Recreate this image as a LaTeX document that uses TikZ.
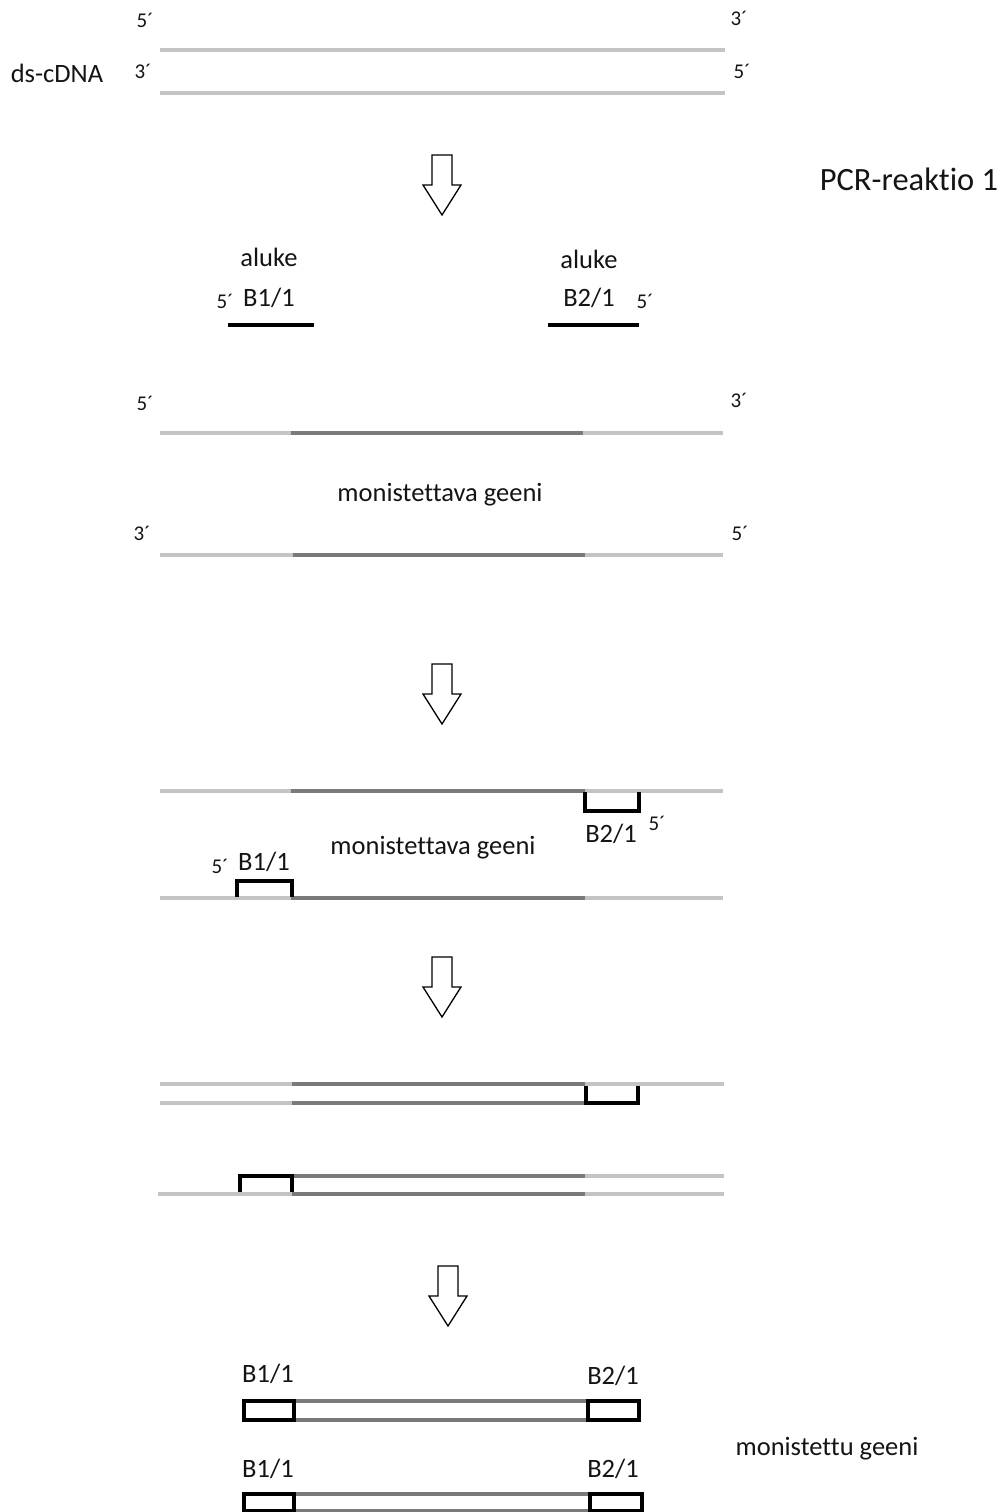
\documentclass[tikz,border=0pt]{standalone}
\usepackage{fontspec}
\setmainfont{Carlito}[Ligatures=NoCommon]
\begin{document}
\begin{tikzpicture}[x=1pt,y=-1pt,
  lite/.style={draw={rgb,255:red,196;green,196;blue,196},line width=4pt},
  dark/.style={draw={rgb,255:red,122;green,122;blue,122},line width=4pt},
  primer/.style={draw=black,line width=4pt},
  endlbl/.style={font=\fontsize{21}{24}\selectfont,text={rgb,255:red,20;green,20;blue,20}},
  lbl/.style={font=\fontsize{26.5}{30}\selectfont,text={rgb,255:red,20;green,20;blue,20}},
  biglbl/.style={font=\fontsize{32.5}{38}\selectfont,text={rgb,255:red,20;green,20;blue,20}},
  stepmark/.style={draw=black,line width=1.3pt,fill=white,line join=miter}]
\useasboundingbox (0,0) rectangle (1004,1512);

% hollow down arrow: #1 = centre x, #2 = top y
\newcommand\downarrowshape[2]{%
  \draw[stepmark] (#1-10,#2) -- (#1+10,#2) -- (#1+10,#2+30) -- (#1+19,#2+30)
    -- (#1,#2+60) -- (#1-19,#2+30) -- (#1-10,#2+30) -- cycle;}

% ---- ds-cDNA
\node[endlbl] (a5) at (145,20) {5´};
\node[endlbl] (a3r) at (739,18) {3´};
\node[endlbl] (a3) at (143,71) {3´};
\node[endlbl] (a5r) at (742,71) {5´};
\node[lbl] (dsc) at (57,73) {ds-cDNA};
\draw[lite] (160,50) -- (725,50);
\draw[lite] (160,93) -- (725,93);

\downarrowshape{442}{155}
\node[biglbl] (pcr) at (909,179) {PCR-reaktio 1};

% ---- primers
\node[lbl] (al1) at (269,257) {aluke};
\node[lbl] (al2) at (589,259) {aluke};
\node[endlbl] (p1e) at (225,301) {5´};
\node[lbl] (p1) at (269,298) {B1/1};
\node[lbl] (p2) at (589,298) {B2/1};
\node[endlbl] (p2e) at (645,301) {5´};
\draw[primer] (228,325) -- (314,325);
\draw[primer] (548,325) -- (639,325);

% ---- template with gene region
\node[endlbl] (b5) at (145,403) {5´};
\node[endlbl] (b3r) at (739,400) {3´};
\draw[lite] (160,433) -- (291,433);
\draw[dark] (291,433) -- (583,433);
\draw[lite] (583,433) -- (723,433);
\node[lbl] (gene1) at (440,495) {monistettava geeni};
\node[endlbl] (b3) at (142,533) {3´};
\node[endlbl] (b5r) at (740,533) {5´};
\draw[lite] (160,555) -- (293,555);
\draw[dark] (293,555) -- (585,555);
\draw[lite] (585,555) -- (723,555);

\downarrowshape{442}{664}

% ---- primers annealed
\draw[lite] (160,791) -- (291,791);
\draw[dark] (291,791) -- (585,791);
\draw[lite] (585,791) -- (723,791);
\draw[primer] (585,792) -- (585,811) -- (639,811) -- (639,792);
\node[lbl] (c2) at (611,834) {B2/1};
\node[endlbl] (c2e) at (657,823) {5´};
\node[lbl] (gene2) at (433,848) {monistettava geeni};
\node[endlbl] (c1e) at (220,866) {5´};
\node[lbl] (c1) at (264,862) {B1/1};
\draw[lite] (160,898) -- (291,898);
\draw[dark] (291,898) -- (585,898);
\draw[lite] (585,898) -- (723,898);
\draw[primer] (237,897) -- (237,881) -- (292,881) -- (292,897);

\downarrowshape{442}{957}

% ---- extended strands
\draw[lite] (160,1084) -- (292,1084);
\draw[dark] (292,1084) -- (585,1084);
\draw[lite] (585,1084) -- (724,1084);
\draw[lite] (160,1103) -- (292,1103);
\draw[dark] (292,1103) -- (585,1103);
\draw[primer] (586,1086) -- (586,1103) -- (638,1103) -- (638,1086);

\draw[dark] (292,1176) -- (585,1176);
\draw[lite] (585,1176) -- (724,1176);
\draw[primer] (240,1193) -- (240,1176) -- (292,1176) -- (292,1193);
\draw[lite] (158,1194) -- (292,1194);
\draw[dark] (292,1194) -- (585,1194);
\draw[lite] (585,1194) -- (724,1194);

\downarrowshape{448}{1266}

% ---- amplified product
\node[lbl] (d1) at (268,1374) {B1/1};
\node[lbl] (d2) at (613,1376) {B2/1};
\draw[dark] (294,1401) -- (587,1401);
\draw[dark] (294,1420) -- (587,1420);
\draw[primer] (244,1401) rectangle (294,1420);
\draw[primer] (588,1401) rectangle (639,1420);

\node[lbl] (prod) at (827,1449) {monistettu geeni};

\node[lbl] (e1) at (268,1469) {B1/1};
\node[lbl] (e2) at (613,1469) {B2/1};
\draw[dark] (294,1494) -- (590,1494);
\draw[dark] (294,1511) -- (590,1511);
\draw[primer] (244,1494) rectangle (294,1511);
\draw[primer] (590,1494) rectangle (642,1511);
\end{tikzpicture}
\end{document}
